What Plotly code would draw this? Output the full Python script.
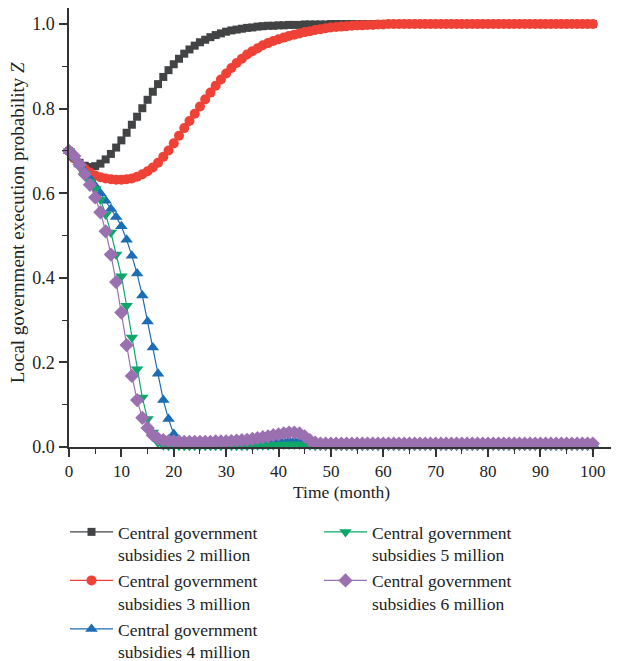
import plotly.graph_objects as go

months = list(range(0, 101))

s2 = [0.700, 0.684, 0.672, 0.665, 0.662, 0.664, 0.670, 0.680, 0.693, 0.708,
      0.725, 0.743, 0.762, 0.781, 0.801, 0.821, 0.840, 0.858, 0.875, 0.891,
      0.905, 0.918, 0.930, 0.940, 0.949, 0.957, 0.963, 0.969, 0.974, 0.978,
      0.982, 0.985, 0.987, 0.989, 0.991, 0.992, 0.994, 0.995, 0.996, 0.996,
      0.997, 0.997, 0.998, 0.998, 0.998, 0.999, 0.999, 0.999, 0.999, 0.999,
      1.000, 1.000, 1.000, 1.000, 1.000, 1.000, 1.000, 1.000, 1.000, 1.000,
      1.000, 1.000, 1.000, 1.000, 1.000, 1.000, 1.000, 1.000, 1.000, 1.000,
      1.000, 1.000, 1.000, 1.000, 1.000, 1.000, 1.000, 1.000, 1.000, 1.000,
      1.000, 1.000, 1.000, 1.000, 1.000, 1.000, 1.000, 1.000, 1.000, 1.000,
      1.000, 1.000, 1.000, 1.000, 1.000, 1.000, 1.000, 1.000, 1.000, 1.000,
      1.000]

s3 = [0.700, 0.682, 0.668, 0.657, 0.649, 0.642, 0.638, 0.635, 0.633, 0.632,
      0.632, 0.633, 0.635, 0.639, 0.645, 0.652, 0.661, 0.672, 0.686, 0.701,
      0.718, 0.736, 0.754, 0.771, 0.788, 0.805, 0.822, 0.838, 0.854, 0.869,
      0.883, 0.896, 0.908, 0.918, 0.928, 0.936, 0.943, 0.950, 0.955, 0.960,
      0.964, 0.968, 0.972, 0.975, 0.978, 0.981, 0.983, 0.986, 0.988, 0.990,
      0.992, 0.993, 0.994, 0.995, 0.996, 0.997, 0.997, 0.998, 0.998, 0.999,
      0.999, 1.000, 1.000, 1.000, 1.000, 1.000, 1.000, 1.000, 1.000, 1.000,
      1.000, 1.000, 1.000, 1.000, 1.000, 1.000, 1.000, 1.000, 1.000, 1.000,
      1.000, 1.000, 1.000, 1.000, 1.000, 1.000, 1.000, 1.000, 1.000, 1.000,
      1.000, 1.000, 1.000, 1.000, 1.000, 1.000, 1.000, 1.000, 1.000, 1.000,
      1.000]

s4 = [0.700, 0.684, 0.668, 0.652, 0.635, 0.618, 0.600, 0.582, 0.563, 0.544,
      0.522, 0.490, 0.452, 0.410, 0.358, 0.297, 0.235, 0.173, 0.111, 0.066,
      0.031, 0.013, 0.009, 0.008, 0.008, 0.008, 0.008, 0.008, 0.008, 0.008,
      0.008, 0.008, 0.008, 0.008, 0.009, 0.009, 0.010, 0.010, 0.011, 0.012,
      0.013, 0.014, 0.015, 0.015, 0.014, 0.012, 0.009, 0.007, 0.007, 0.007,
      0.007, 0.007, 0.007, 0.007, 0.007, 0.007, 0.007, 0.007, 0.007, 0.007,
      0.007, 0.007, 0.007, 0.007, 0.007, 0.007, 0.007, 0.007, 0.007, 0.007,
      0.007, 0.007, 0.007, 0.007, 0.007, 0.007, 0.007, 0.007, 0.007, 0.007,
      0.007, 0.007, 0.007, 0.007, 0.007, 0.007, 0.007, 0.007, 0.007, 0.007,
      0.007, 0.007, 0.007, 0.007, 0.007, 0.007, 0.007, 0.007, 0.007, 0.007,
      0.007]

s5 = [0.700, 0.682, 0.664, 0.646, 0.627, 0.610, 0.585, 0.550, 0.507, 0.455,
      0.404, 0.334, 0.259, 0.184, 0.117, 0.066, 0.034, 0.010, 0.004, 0.003,
      0.003, 0.003, 0.003, 0.003, 0.003, 0.003, 0.003, 0.003, 0.003, 0.003,
      0.003, 0.003, 0.003, 0.003, 0.003, 0.003, 0.004, 0.004, 0.004, 0.005,
      0.005, 0.006, 0.006, 0.006, 0.006, 0.005, 0.004, 0.003, 0.003, 0.003,
      0.003, 0.003, 0.003, 0.003, 0.003, 0.003, 0.003, 0.003, 0.003, 0.003,
      0.003, 0.003, 0.003, 0.003, 0.003, 0.003, 0.003, 0.003, 0.003, 0.003,
      0.003, 0.003, 0.003, 0.003, 0.003, 0.003, 0.003, 0.003, 0.003, 0.003,
      0.003, 0.003, 0.003, 0.003, 0.003, 0.003, 0.003, 0.003, 0.003, 0.003,
      0.003, 0.003, 0.003, 0.003, 0.003, 0.003, 0.003, 0.003, 0.003, 0.003,
      0.003]

s6 = [0.700, 0.688, 0.668, 0.645, 0.620, 0.590, 0.555, 0.510, 0.455, 0.390,
      0.318, 0.241, 0.168, 0.111, 0.069, 0.045, 0.028, 0.020, 0.016, 0.014,
      0.013, 0.013, 0.012, 0.012, 0.012, 0.012, 0.012, 0.012, 0.013, 0.013,
      0.013, 0.014, 0.015, 0.016, 0.017, 0.019, 0.021, 0.023, 0.025, 0.028,
      0.030, 0.032, 0.034, 0.034, 0.032, 0.025, 0.016, 0.010, 0.008, 0.008,
      0.008, 0.008, 0.008, 0.008, 0.008, 0.008, 0.008, 0.008, 0.008, 0.008,
      0.008, 0.008, 0.008, 0.008, 0.008, 0.008, 0.008, 0.008, 0.008, 0.008,
      0.008, 0.008, 0.008, 0.008, 0.008, 0.008, 0.008, 0.008, 0.008, 0.008,
      0.008, 0.008, 0.008, 0.008, 0.008, 0.008, 0.008, 0.008, 0.008, 0.008,
      0.008, 0.008, 0.008, 0.008, 0.008, 0.008, 0.008, 0.008, 0.008, 0.008,
      0.008]

names = ["Central government<br>subsidies 2 million",
         "Central government<br>subsidies 3 million",
         "Central government<br>subsidies 4 million",
         "Central government<br>subsidies 5 million",
         "Central government<br>subsidies 6 million"]

x_ticks = [0, 10, 20, 30, 40, 50, 60, 70, 80, 90, 100]
y_ticks = [0.0, 0.2, 0.4, 0.6, 0.8, 1.0]
y_tick_labels = ["0.0", "0.2", "0.4", "0.6", "0.8", "1.0"]
x_title = "Time (month)"
y_title = "Local government execution probability <i>Z</i>"

series = [s2, s3, s4, s5, s6]
colors = ["#414344", "#ef4136", "#1c6db5", "#0fa66a", "#9a70b0"]
symbols = ["square", "circle", "triangle-up", "triangle-down", "diamond"]
sizes = [8, 10, 11, 11, 11]
legends = ["legend", "legend", "legend", "legend2", "legend2"]

FONT = "Liberation Serif"
TXT = "#222222"

# page has an 8px body margin; figure is sized to fit the 619x661 window
W, H = 611, 653
OFF = 8

fig = go.Figure()
for i, ys in enumerate(series):
    fig.add_trace(go.Scatter(
        x=months, y=ys, name=names[i], mode="lines+markers",
        line=dict(color=colors[i], width=1.2),
        marker=dict(symbol=symbols[i], size=sizes[i], color=colors[i], line=dict(width=0)),
        cliponaxis=False,
        legend=legends[i], legendgroup="g%d" % i,
    ))

axis_common = dict(
    showline=True, linecolor="#333333", linewidth=1.5,
    ticks="outside", ticklen=8, tickwidth=1.5, tickcolor="#333333",
    showgrid=False, zeroline=False,
    mirror=False,
)

fig.update_xaxes(
    range=[0, 105], tickvals=x_ticks,
    tickfont=dict(family=FONT, size=17, color=TXT),
    minor=dict(ticks="outside", ticklen=5, tickwidth=1.2, tickcolor="#333333", dtick=5, tick0=0),
    **axis_common,
)
fig.update_yaxes(
    range=[0, 1.038], tickvals=y_ticks, ticktext=y_tick_labels,
    tickfont=dict(family=FONT, size=18, color=TXT), ticklabelstandoff=1,
    minor=dict(ticks="outside", ticklen=5, tickwidth=1.2, tickcolor="#333333", dtick=0.1, tick0=0),
    **axis_common,
)

# plot area in page pixels: x 69..619, y 8..446.7
PL, PR, PT, PB = 69, 619, 8, 446.7

def px_to_paper(px, py):
    return (px - PL) / (PR - PL), (PB - py) / (PB - PT)

ax_x, ax_y = px_to_paper(341, 492)
ay_x, ay_y = px_to_paper(17, 223)

fig.add_annotation(text=x_title, xref="paper", yref="paper", x=ax_x, y=ax_y,
                   xanchor="center", yanchor="middle", showarrow=False,
                   font=dict(family=FONT, size=17.5, color=TXT))
fig.add_annotation(text=y_title, xref="paper", yref="paper", x=ay_x, y=ay_y,
                   xanchor="center", yanchor="middle", showarrow=False, textangle=-90,
                   font=dict(family=FONT, size=19, color=TXT))

legend_common = dict(
    xref="container", yref="container", xanchor="left", yanchor="top",
    orientation="v", valign="top", itemwidth=43,
    font=dict(family=FONT, size=17.5, color=TXT),
    bgcolor="rgba(0,0,0,0)", tracegroupgap=0, itemclick=False,
)

fig.update_layout(
    width=W, height=H,
    margin=dict(l=PL - OFF, r=0, t=PT - OFF, b=H - (PB - OFF), autoexpand=False),
    plot_bgcolor="white", paper_bgcolor="white",
    showlegend=True,
    legend=dict(x=(65 - OFF) / W, y=1 - (514 - OFF) / H, **legend_common),
    legend2=dict(x=(319 - OFF) / W, y=1 - (514 - OFF) / H, **legend_common),
)

fig.write_html("out.html")
